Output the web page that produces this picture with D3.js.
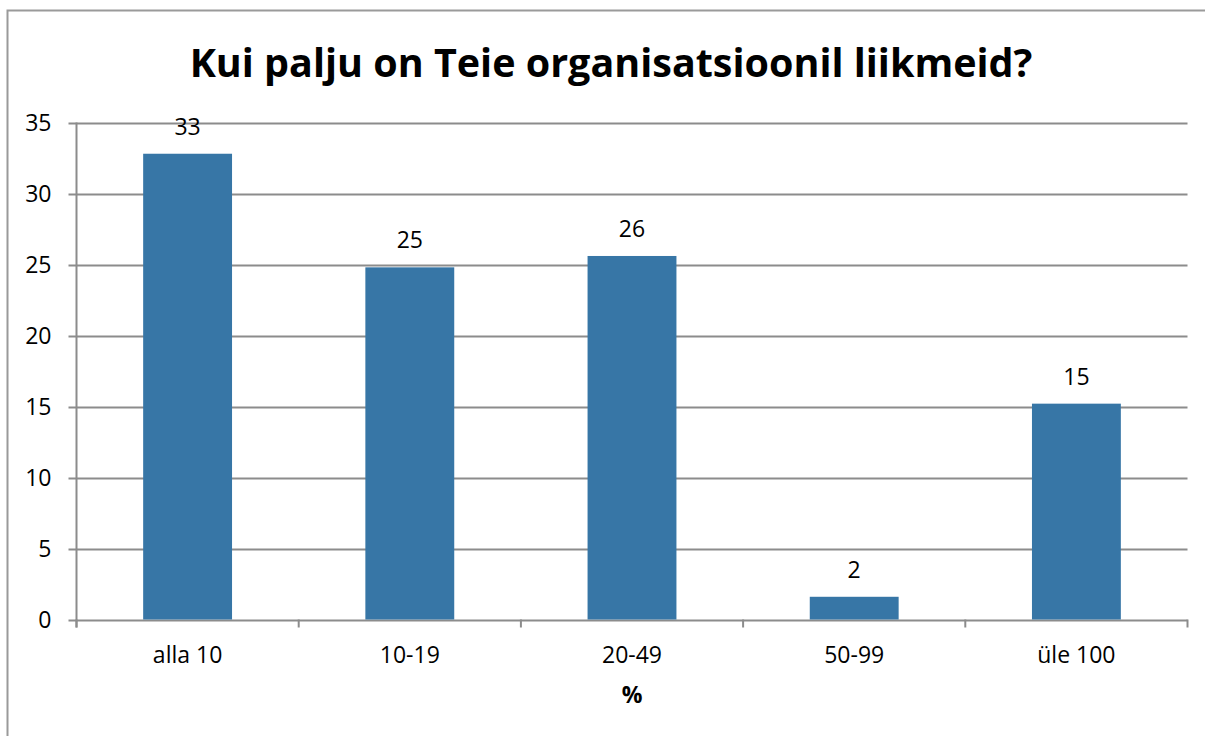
<!DOCTYPE html>
<html>
<head>
<meta charset="utf-8">
<script src="https://cdn.jsdelivr.net/npm/d3@7"></script>
<style>
  body { margin: 0; background: #fff; }
  svg { display: block; font-family: "Open Sans", "Noto Sans", sans-serif; }
</style>
</head>
<body>
<svg id="chart" width="1205" height="736"></svg>
<script>
// andmed
const categories = ["alla 10", "10-19", "20-49", "50-99", "üle 100"];
const values = [32.8, 24.8, 25.6, 1.6, 15.2];
const valueLabels = ["33", "25", "26", "2", "15"];
const yTicks = [0, 5, 10, 15, 20, 25, 30, 35];
const title = "Kui palju on Teie organisatsioonil liikmeid?";
const xTitle = "%";

const svg = d3.select("#chart");
const margin = { left: 76.5, right: 17.5, top: 122.5, bottom: 116.5 };
const W = 1205, H = 736;
const grid = "#8c8c8c";
const fs = 23;

// kaardi raam
svg.append("rect")
    .attr("x", 7.5).attr("y", 10.5)
    .attr("width", W).attr("height", H)
    .attr("fill", "none").attr("stroke", "#9a9a9a").attr("stroke-width", 2);

const x = d3.scaleBand()
    .domain(categories)
    .range([margin.left, W - margin.right])
    .paddingInner(0.6)
    .paddingOuter(0.3);

const y = d3.scaleLinear()
    .domain([0, 35])
    .range([H - margin.bottom, margin.top]);

// ruudustik
svg.append("g")
    .selectAll("line")
    .data(yTicks)
    .enter().append("line")
    .attr("x1", margin.left - 8)
    .attr("x2", W - margin.right)
    .attr("y1", d => Math.round(y(d)) + 0.5)
    .attr("y2", d => Math.round(y(d)) + 0.5)
    .attr("stroke", grid).attr("stroke-width", 2);

// y-telje numbrid
svg.append("g")
    .selectAll("text")
    .data(yTicks)
    .enter().append("text")
    .attr("x", margin.left - 25)
    .attr("y", d => y(d))
    .attr("dy", "0.35em")
    .attr("text-anchor", "end")
    .attr("font-size", fs)
    .attr("fill", "#000")
    .text(d => d);

// y-telg
svg.append("line")
    .attr("x1", margin.left).attr("x2", margin.left)
    .attr("y1", margin.top).attr("y2", H - margin.bottom + 8)
    .attr("stroke", grid).attr("stroke-width", 2);

// x-telje kriipsud
const step = x.step();
const edges = d3.range(categories.length + 1).map(i => margin.left + i * step);
svg.append("g")
    .selectAll("line")
    .data(edges)
    .enter().append("line")
    .attr("x1", d => d).attr("x2", d => d)
    .attr("y1", y(0)).attr("y2", y(0) + 8)
    .attr("stroke", grid).attr("stroke-width", 2);

// tulbad
svg.append("g")
    .selectAll("rect")
    .data(values)
    .enter().append("rect")
    .attr("x", (d, i) => x(categories[i]))
    .attr("y", d => y(d))
    .attr("width", x.bandwidth())
    .attr("height", d => y(0) - y(d))
    .attr("fill", "#3776a6");

// väärtused tulpade kohal
svg.append("g")
    .selectAll("text")
    .data(values)
    .enter().append("text")
    .attr("x", (d, i) => x(categories[i]) + x.bandwidth() / 2)
    .attr("y", d => y(d) - 19)
    .attr("text-anchor", "middle")
    .attr("font-size", fs)
    .text((d, i) => valueLabels[i]);

// kategooriad
svg.append("g")
    .selectAll("text")
    .data(categories)
    .enter().append("text")
    .attr("x", d => x(d) + x.bandwidth() / 2)
    .attr("y", 663)
    .attr("text-anchor", "middle")
    .attr("font-size", fs)
    .text(d => d);

// x-telje pealkiri
svg.append("text")
    .attr("x", x(categories[2]) + x.bandwidth() / 2)
    .attr("y", 703)
    .attr("text-anchor", "middle")
    .attr("font-size", fs)
    .attr("font-weight", "bold")
    .text(xTitle);

// pealkiri
const t = svg.append("text")
    .attr("x", 611)
    .attr("y", 77)
    .attr("text-anchor", "middle")
    .attr("font-size", 40)
    .attr("font-weight", "bold")
    .text(title);
const tw = t.node().getComputedTextLength();
t.attr("font-size", 40 * 843 / tw);
</script>
</body>
</html>
